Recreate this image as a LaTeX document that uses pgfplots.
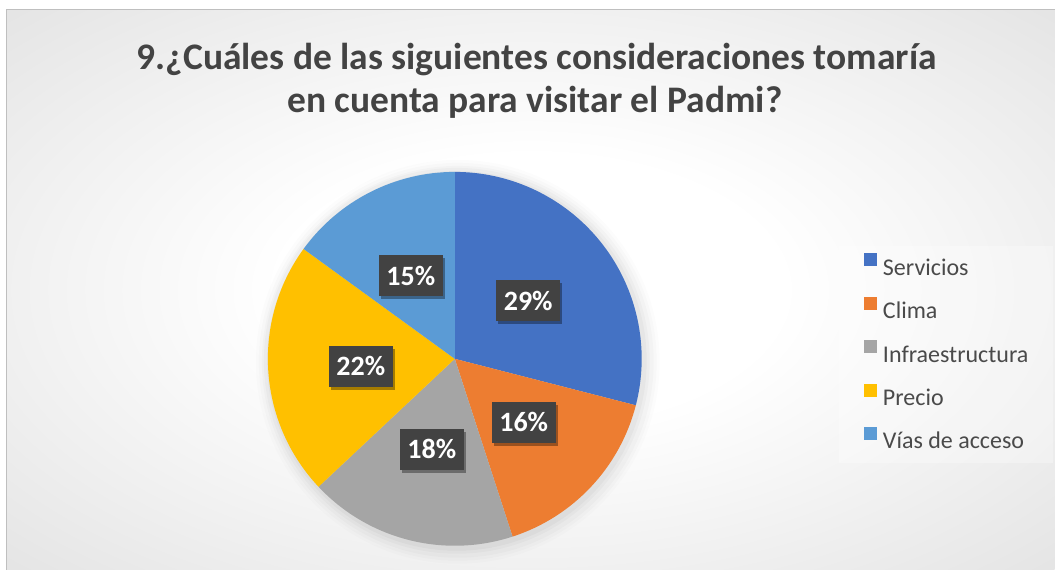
\documentclass[border=0pt]{standalone}
\usepackage{pgfplots}
\pgfplotsset{compat=1.18}
\usepackage{pgfplotstable}
\usepackage{fontspec}
\setmainfont{Carlito}
\usetikzlibrary{shadows}
\definecolor{cServ}{HTML}{4472C4}
\definecolor{cClima}{HTML}{ED7D31}
\definecolor{cInfra}{HTML}{A5A5A5}
\definecolor{cPrecio}{HTML}{FFC000}
\definecolor{cVias}{HTML}{5B9BD5}
\definecolor{bgmid}{HTML}{D4D4D4}
\definecolor{bgout}{HTML}{C3C3C3}
\definecolor{labbg}{HTML}{424242}
\definecolor{titlec}{HTML}{434343}
\definecolor{legc}{HTML}{4A4A4A}
\pgfdeclareradialshading{bgshade}{\pgfpoint{0bp}{0bp}}{color(0bp)=(white); color(12bp)=(white); color(50bp)=(bgmid); color(71bp)=(bgout)}
\pgfplotstableread[col sep=comma]{
name,value,color,lx,ly
Servicios,29,cServ,528.5,269
Clima,16,cClima,524,147.5
Infraestructura,18,cInfra,432,120.5
Precio,22,cPrecio,361,203.5
Vias,15,cVias,411,294
}\piedata
\tikzset{lab/.style={fill=labbg, text=white, font=\fontsize{28}{32}\bfseries\selectfont,
  minimum width=64pt, minimum height=41pt, inner sep=0pt,
  drop shadow={shadow xshift=2pt, shadow yshift=-3pt, opacity=0.35, fill=black}}}
\newcommand\legsq[1]{\addlegendimage{legend image code/.code={\path (-25pt,0pt); \fill[#1, fill opacity=1, draw=none] (0pt,1.5pt) rectangle (13pt,14.5pt);}}}
\begin{document}
\begin{tikzpicture}
\begin{axis}[x=1pt, y=1pt, xmin=0, xmax=1055, ymin=0, ymax=570,
  scale only axis, hide axis, clip=false,
  legend cell align=left,
  legend style={at={(axis cs:839,324)}, anchor=north west, draw=none,
    fill=white, fill opacity=0.3, text opacity=1,
    inner xsep=0pt, inner ysep=0pt,
    font=\fontsize{24}{28}\selectfont, text=legc,
    nodes={inner sep=0pt, text height=29pt, text depth=14.5pt, text width=170pt, align=flush left},
    row sep=0pt,
    /tikz/every odd column/.style={column sep=6pt}},
]
\fill[white] (axis cs:0,0) rectangle (axis cs:1055,570);
\shade[shading=bgshade] (axis cs:7,0) rectangle (axis cs:1055,560);
\draw[black!25, line width=1pt] (axis cs:7,0) -- (axis cs:7,560) -- (axis cs:1055,560);
% soft glow behind the pie
\fill[black, opacity=0.012] (axis cs:458,208) circle[radius=202pt];
\fill[black, opacity=0.015] (axis cs:458,208) circle[radius=199pt];
\fill[black, opacity=0.018] (axis cs:458,208) circle[radius=196pt];
\fill[black, opacity=0.022] (axis cs:457,209) circle[radius=193pt];
\fill[black, opacity=0.026] (axis cs:457,209) circle[radius=190pt];
% slices
\xdef\cum{0}
\pgfplotsinvokeforeach{0,...,4}{%
  \pgfplotstablegetelem{#1}{value}\of\piedata \let\val\pgfplotsretval
  \pgfplotstablegetelem{#1}{color}\of\piedata \let\col\pgfplotsretval
  \pgfmathsetmacro\sa{90-3.6*\cum}
  \pgfmathsetmacro\ea{90-3.6*(\cum+\val)}
  \edef\temp{\noexpand\fill[\col] (axis cs:455,211) -- ++(\sa:187pt) arc[start angle=\sa, end angle=\ea, radius=187pt] -- cycle;}
  \temp
  \pgfmathsetmacro\newcum{\cum+\val}\xdef\cum{\newcum}
}
% labels
\pgfplotsinvokeforeach{0,...,4}{%
  \pgfplotstablegetelem{#1}{value}\of\piedata \let\val\pgfplotsretval
  \pgfplotstablegetelem{#1}{lx}\of\piedata \let\lx\pgfplotsretval
  \pgfplotstablegetelem{#1}{ly}\of\piedata \let\ly\pgfplotsretval
  \edef\temp{\noexpand\node[lab] at (axis cs:\lx,\ly) {\val\noexpand\%};}
  \temp
}
% title
\node[anchor=base, text=titlec, font=\fontsize{37.5}{44}\bfseries\selectfont] at (axis cs:537,500) {9.¿Cuáles de las siguientes consideraciones tomaría};
\node[anchor=base, text=titlec, font=\fontsize{37.5}{44}\bfseries\selectfont] at (axis cs:535,457) {en cuenta para visitar el Padmi?};
% legend
\legsq{cServ}\addlegendentry{Servicios}
\legsq{cClima}\addlegendentry{Clima}
\legsq{cInfra}\addlegendentry{Infraestructura}
\legsq{cPrecio}\addlegendentry{Precio}
\legsq{cVias}\addlegendentry{Vías de acceso}
\end{axis}
\end{tikzpicture}
\end{document}
